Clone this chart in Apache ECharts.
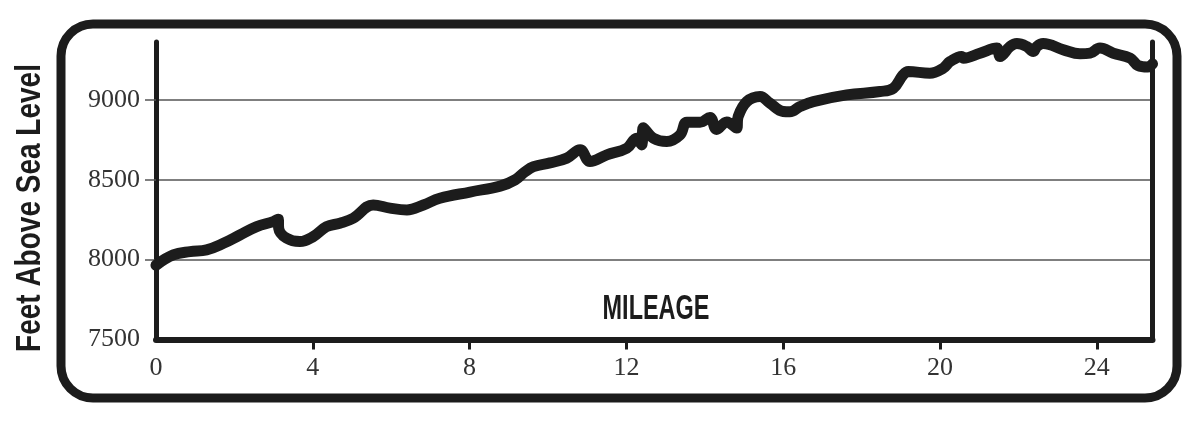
<!DOCTYPE html>
<html>
<head>
<meta charset="utf-8">
<script src="https://cdn.jsdelivr.net/npm/echarts@6/dist/echarts.min.js"></script>
<style>
html,body{margin:0;padding:0;background:#fff;}
#chart{width:1200px;height:422px;}
</style>
</head>
<body>
<div id="chart"></div>
<script>
var mileage = [0, 0.44, 0.87, 1.29, 1.72, 2.14, 2.57, 2.99, 3.12, 3.13, 3.33, 3.67, 4.01, 4.35, 4.69, 5.03, 5.54, 5.97, 6.4, 6.82, 7.24, 8.01, 8.78, 9.16, 9.41, 9.63, 10.05, 10.48, 10.82, 11.07, 11.5, 12.01, 12.26, 12.39, 12.43, 12.69, 13.03, 13.37, 13.54, 13.88, 14.13, 14.3, 14.56, 14.81, 14.85, 15.07, 15.41, 15.66, 16.0, 16.17, 16.43, 16.77, 17.62, 18.47, 18.81, 19.06, 19.19, 19.74, 20.08, 20.26, 20.55, 20.6, 21.02, 21.45, 21.53, 21.79, 21.96, 22.21, 22.38, 22.47, 22.63, 23.15, 23.57, 23.83, 24.08, 24.42, 24.85, 25.05, 25.3, 25.42];
var elevation = [7965, 8029, 8050, 8061, 8102, 8154, 8206, 8238, 8253, 8196, 8134, 8113, 8144, 8206, 8228, 8259, 8342, 8322, 8311, 8342, 8384, 8423, 8460, 8499, 8549, 8582, 8605, 8635, 8687, 8614, 8656, 8697, 8760, 8718, 8825, 8760, 8739, 8781, 8860, 8860, 8890, 8815, 8862, 8823, 8895, 8989, 9021, 8979, 8927, 8925, 8958, 8989, 9031, 9052, 9073, 9157, 9177, 9167, 9198, 9240, 9272, 9261, 9292, 9324, 9271, 9334, 9352, 9334, 9303, 9334, 9352, 9313, 9288, 9292, 9324, 9292, 9261, 9215, 9205, 9225];
var xTickValues = [4, 8, 12, 16, 20, 24];
var xLabelValues = [0, 4, 8, 12, 16, 20, 24];
var yTickValues = [8000, 8500, 9000];
var yLabelValues = [7500, 8000, 8500, 9000];

var data = mileage.map(function (m, i) { return [m, elevation[i]]; });
var ink = '#1c1c1c';
var plain = function (v) { return String(v); };
var chart = echarts.init(document.getElementById('chart'), null, {renderer: 'canvas'});
chart.setOption({
  animation: false,
  backgroundColor: '#ffffff',
  grid: {left: 156, right: 47.5, top: 42, bottom: 82.5, containLabel: false},
  xAxis: {
    type: 'value', min: 0, max: 25.42, interval: 4,
    axisLine: {show: true, lineStyle: {color: ink, width: 6}},
    axisTick: {show: true, length: 10, customValues: xTickValues, lineStyle: {color: ink, width: 3}},
    axisLabel: {show: true, customValues: xLabelValues, formatter: plain, margin: 16, color: '#333', fontFamily: 'Liberation Serif', fontSize: 26},
    splitLine: {show: false}
  },
  yAxis: [{
    type: 'value', min: 7500, max: 9362, interval: 500, position: 'left',
    axisLine: {show: true, lineStyle: {color: ink, width: 5}},
    axisTick: {show: true, length: 11, customValues: yTickValues, lineStyle: {color: '#555', width: 1.5}},
    axisLabel: {show: true, customValues: yLabelValues, formatter: plain, margin: 16, color: '#333', fontFamily: 'Liberation Serif', fontSize: 26},
    splitLine: {show: true, showMinLine: true, showMaxLine: true, lineStyle: {color: '#555', width: 1.5}}
  }, {
    type: 'value', min: 7500, max: 9362, interval: 500, position: 'right',
    axisLine: {show: true, lineStyle: {color: ink, width: 5}},
    axisTick: {show: false}, axisLabel: {show: false}, splitLine: {show: false}
  }],
  series: [{
    type: 'line', data: data, yAxisIndex: 0,
    symbol: 'none', smooth: 0.4,
    lineStyle: {color: ink, width: 11, cap: 'round', join: 'round'},
    z: 3
  }],
  graphic: [
    {type: 'rect', shape: {x: 61, y: 24, width: 1116, height: 374, r: 32},
     style: {fill: 'none', stroke: ink, lineWidth: 9}, z: 0, silent: true},
    {type: 'text', x: 656, y: 309, scaleX: 0.67, z: 10,
     style: {text: 'MILEAGE', fill: ink, font: 'bold 35px "Liberation Sans", Arial, sans-serif', textAlign: 'center', textVerticalAlign: 'middle', verticalAlign: 'middle'}},
    {type: 'text', x: 30.5, y: 208, rotation: Math.PI / 2, scaleX: 0.8, z: 10,
     style: {text: 'Feet Above Sea Level', fill: ink, font: 'bold 35px "Liberation Sans", Arial, sans-serif', textAlign: 'center', textVerticalAlign: 'middle', verticalAlign: 'middle'}}
  ]
});
</script>
</body>
</html>
